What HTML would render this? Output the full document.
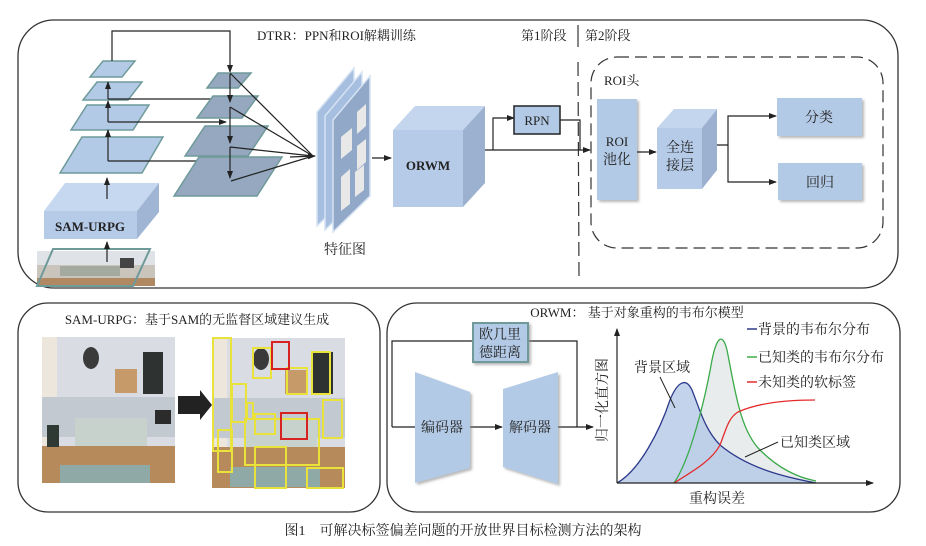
<!DOCTYPE html>
<html><head><meta charset="utf-8"><style>
html,body{margin:0;padding:0;background:#fff}
svg{display:block}
text{font-family:"Liberation Serif","Noto Serif CJK SC",serif;fill:#222}
</style></head><body>
<svg width="926" height="546" viewBox="0 0 926 546" xmlns="http://www.w3.org/2000/svg">
<defs>
<marker id="a" markerWidth="8" markerHeight="6" refX="7" refY="3" orient="auto" markerUnits="userSpaceOnUse"><path d="M0,0L8,3L0,6Z" fill="#222"/></marker>
<filter id="sh" x="-10%" y="-10%" width="130%" height="130%"><feDropShadow dx="2" dy="2" stdDeviation="1.2" flood-color="#888" flood-opacity="0.6"/></filter>
</defs>
<rect x="18" y="20" width="880" height="268" rx="36" fill="none" stroke="#333" stroke-width="1.3"/>
<rect x="18" y="303" width="362" height="209" rx="30" fill="none" stroke="#333" stroke-width="1.3"/>
<rect x="387" y="303" width="513" height="209" rx="30" fill="none" stroke="#333" stroke-width="1.3"/>

<text x="257" y="40" font-size="13">DTRR：PPN和ROI解耦训练</text>
<text x="521" y="40" font-size="13">第1阶段</text>
<text x="585" y="40" font-size="13">第2阶段</text>
<line x1="578" y1="25" x2="578" y2="47" stroke="#333" stroke-width="1.2"/>
<line x1="578" y1="62" x2="579" y2="277" stroke="#333" stroke-width="1.2" stroke-dasharray="14,6"/>

<rect x="37" y="251" width="118" height="35" fill="#c9c4bc"/>
<rect x="37" y="251" width="118" height="14" fill="#dfe2e6"/>
<rect x="60" y="266" width="60" height="10" fill="#a5aaa0"/>
<rect x="120" y="258" width="14" height="10" fill="#444"/>
<rect x="37" y="278" width="118" height="8" fill="#b08862"/>
<polygon points="37,286 53,249 150,249 133,286" fill="none" stroke="#6f9a9a" stroke-width="2"/>
<polygon points="44,211 65,183 159,183 137,211" fill="#c6d8ef"/>
<polygon points="137,211 159,183 159,212 137,239" fill="#9fb5d3"/>
<rect x="44" y="211" width="93" height="28" fill="#b5cbe8"/>
<text x="90" y="231" font-size="13" font-weight="bold" text-anchor="middle" fill="#333">SAM-URPG</text>
<line x1="107" y1="262" x2="107" y2="242" stroke="#222" stroke-width="1.2" marker-end="url(#a)"/>
<line x1="107" y1="199" x2="107" y2="178" stroke="#222" stroke-width="1.2" marker-end="url(#a)"/>
<g fill="#b3cae6" stroke="#6f9a9a" stroke-width="1.5">
<polygon points="60,173 82,137 163,137 142,173"/>
<polygon points="71,130 87,105 149,105 133,130"/>
<polygon points="83,100 97,82 142,82 128,100"/>
<polygon points="90,77 103,61 135,61 122,77"/>
</g>
<g stroke="#222" stroke-width="1.2" fill="none">
<line x1="108" y1="161" x2="108" y2="130" marker-end="url(#a)"/>
<line x1="108" y1="122" x2="108" y2="101" marker-end="url(#a)"/>
<line x1="108" y1="99" x2="108" y2="82" marker-end="url(#a)"/>
<polyline points="112,61 112,31 230,31 230,72" marker-end="url(#a)"/>
<line x1="108" y1="99" x2="228" y2="99" marker-end="url(#a)"/>
<line x1="108" y1="122" x2="226" y2="122" marker-end="url(#a)"/>
<line x1="108" y1="161" x2="226" y2="161" marker-end="url(#a)"/>
</g>
<g fill="#95a8bf" stroke="#6f9a9a" stroke-width="1.5">
<polygon points="174,196 199,157 282,157 257,196"/>
<polygon points="185,156 205,126 268,126 248,156"/>
<polygon points="197,118 213,96 258,96 242,118"/>
<polygon points="207,88 218,73 251,73 238,88"/>
</g>
<g stroke="#222" stroke-width="1.2" fill="none">
<line x1="230" y1="74" x2="230" y2="102" marker-end="url(#a)"/>
<line x1="230" y1="107" x2="230" y2="143" marker-end="url(#a)"/>
<line x1="230" y1="147" x2="230" y2="178" marker-end="url(#a)"/>
<line x1="230" y1="73" x2="313" y2="156"/>
<line x1="230" y1="107" x2="313" y2="156"/>
<line x1="230" y1="147" x2="313" y2="156"/>
<line x1="231" y1="181" x2="313" y2="156"/>
<line x1="290" y1="157" x2="315" y2="156" marker-end="url(#a)"/>
</g>
<g stroke="#d6e3f3" stroke-width="1.5">
<polygon points="317,112 354,68 354,190 317,226" fill="#a6bedf"/>
<polygon points="325,116 362,72 362,194 325,230" fill="#a6bedf"/>
<polygon points="333,120 370,76 370,196 333,232" fill="#92a8c8"/>
</g>
<g fill="#e8e8e8">
<polygon points="341,137 352,128 352,150 341,159"/>
<polygon points="357,112 366,104 366,126 357,134"/>
<polygon points="357,146 366,139 366,162 357,170"/>
<polygon points="341,177 350,169 350,204 341,211"/>
<polygon points="355,172 364,165 364,190 355,197"/>
</g>
<text x="345" y="254" font-size="14" text-anchor="middle">特征图</text>
<line x1="372" y1="158" x2="391" y2="158" stroke="#222" stroke-width="1.2" marker-end="url(#a)"/>
<polygon points="393,130 415,106 485,106 463,130" fill="#c4d6ee"/>
<polygon points="463,130 485,106 485,183 463,207" fill="#9cb1cf"/>
<rect x="393" y="130" width="70" height="77" fill="#b5cbe8"/>
<text x="428" y="170" font-size="13" font-weight="bold" text-anchor="middle" fill="#333">ORWM</text>
<g stroke="#222" stroke-width="1.2" fill="none">
<line x1="485" y1="150" x2="590" y2="150" marker-end="url(#a)"/>
<polyline points="493,150 493,118 514,118" marker-end="url(#a)"/>
<polyline points="560,120 580,120 580,150"/>
</g>
<rect x="514" y="106" width="46" height="28" fill="#b3cae6" stroke="#222" stroke-width="1.5"/>
<text x="537" y="125" font-size="13" text-anchor="middle">RPN</text>
<rect x="591" y="57" width="292" height="191" rx="26" fill="none" stroke="#333" stroke-width="1.2" stroke-dasharray="12,6"/>
<text x="604" y="85" font-size="13">ROI头</text>
<rect x="597" y="99" width="40" height="101" fill="#b3cae6" filter="url(#sh)"/>
<text x="617" y="146" font-size="13" text-anchor="middle">ROI</text>
<text x="617" y="164" font-size="14" text-anchor="middle">池化</text>
<line x1="637" y1="152" x2="656" y2="152" stroke="#222" stroke-width="1.2" marker-end="url(#a)"/>
<polygon points="657,128 674,109 717,109 702,128" fill="#c4d6ee"/>
<polygon points="702,128 717,109 717,170 702,189" fill="#9cb1cf"/>
<rect x="657" y="128" width="45" height="61" fill="#b5cbe8"/>
<text x="680" y="152" font-size="14" text-anchor="middle">全连</text>
<text x="680" y="170" font-size="14" text-anchor="middle">接层</text>
<g stroke="#222" stroke-width="1.2" fill="none">
<polyline points="717,145 728,145 728,116 776,116" marker-end="url(#a)"/>
<polyline points="728,145 728,182 776,182" marker-end="url(#a)"/>
</g>
<rect x="777" y="98" width="85" height="38" fill="#b3cae6" filter="url(#sh)"/>
<text x="819" y="122" font-size="14" text-anchor="middle">分类</text>
<rect x="778" y="163" width="84" height="37" fill="#b3cae6" filter="url(#sh)"/>
<text x="820" y="187" font-size="14" text-anchor="middle">回归</text>

<text x="197" y="324" font-size="13" text-anchor="middle">SAM-URPG：基于SAM的无监督区域建议生成</text>
<g>
<rect x="42" y="337" width="133" height="146" fill="#d9dde3"/>
<rect x="42" y="337" width="15" height="110" fill="#ece6dd"/>
<rect x="42" y="397" width="133" height="40" fill="#c3c9d0"/>
<ellipse cx="91" cy="358" rx="8" ry="11" fill="#3a3a3a"/>
<rect x="143" y="352" width="20" height="42" fill="#2e3230"/>
<rect x="115" y="369" width="22" height="24" fill="#c79a6a"/>
<rect x="75" y="418" width="72" height="28" fill="#c8d2cc"/>
<rect x="42" y="446" width="133" height="37" fill="#b78a5c"/>
<rect x="60" y="465" width="90" height="18" fill="#8fa9a6"/>
<rect x="47" y="425" width="12" height="22" fill="#2f3a34"/>
<rect x="155" y="410" width="16" height="14" fill="#2b2b2b"/>
</g>
<polygon points="178,396 200,396 200,390 212,405 200,420 200,414 178,414" fill="#222"/>
<g>
<rect x="212" y="338" width="133" height="150" fill="#d9dde3"/>
<rect x="212" y="338" width="15" height="110" fill="#ece6dd"/>
<rect x="212" y="398" width="133" height="40" fill="#c3c9d0"/>
<ellipse cx="261" cy="359" rx="8" ry="11" fill="#3a3a3a"/>
<rect x="313" y="352" width="20" height="42" fill="#2e3230"/>
<rect x="285" y="370" width="22" height="24" fill="#c79a6a"/>
<rect x="245" y="420" width="72" height="28" fill="#c8d2cc"/>
<rect x="212" y="447" width="133" height="41" fill="#b78a5c"/>
<rect x="230" y="467" width="90" height="20" fill="#8fa9a6"/>
</g>
<g fill="none" stroke="#e8e23a" stroke-width="2">
<rect x="213" y="338" width="18" height="113"/>
<rect x="253" y="348" width="18" height="30"/>
<rect x="287" y="368" width="20" height="26"/>
<rect x="312" y="352" width="18" height="42"/>
<rect x="232" y="384" width="14" height="38"/>
<rect x="247" y="403" width="6" height="16"/>
<rect x="218" y="430" width="14" height="42"/>
<rect x="245" y="419" width="74" height="46"/>
<rect x="255" y="414" width="20" height="20"/>
<rect x="255" y="447" width="31" height="41"/>
<rect x="323" y="400" width="19" height="38"/>
<rect x="307" y="468" width="36" height="20"/>
</g>
<g fill="none" stroke="#d82222" stroke-width="2">
<rect x="272" y="342" width="17" height="27"/>
<rect x="281" y="413" width="26" height="26"/>
</g>

<text x="637" y="317" font-size="13" text-anchor="middle">ORWM： 基于对象重构的韦布尔模型</text>
<g stroke="#222" stroke-width="1.2" fill="none">
<polyline points="392,427 392,341 473,341"/>
<polyline points="528,341 577,341 577,427"/>
<line x1="392" y1="427" x2="415" y2="427"/>
<line x1="470" y1="427" x2="502" y2="427" marker-end="url(#a)"/>
<line x1="558" y1="427" x2="593" y2="427" marker-end="url(#a)"/>
</g>
<rect x="473" y="323" width="55" height="39" fill="#b3cae6" stroke="#6f9a9a" stroke-width="2" filter="url(#sh)"/>
<text x="500" y="339" font-size="14" text-anchor="middle">欧几里</text>
<text x="500" y="357" font-size="14" text-anchor="middle">德距离</text>
<polygon points="415,372 470,392 470,468 415,483" fill="#b3cae6" filter="url(#sh)"/>
<text x="442" y="432" font-size="14" text-anchor="middle">编码器</text>
<polygon points="503,389 558,372 558,484 503,467" fill="#b3cae6" filter="url(#sh)"/>
<text x="530" y="432" font-size="14" text-anchor="middle">解码器</text>
<path d="M674,483 C690,460 705,400 712,360 C716,340 722,330 727,350 C735,390 740,430 760,450 C780,470 800,478 816,481 L816,483 Z" fill="#e9eced"/>
<path d="M617,483 C640,470 660,430 670,400 C676,385 685,375 692,390 C700,410 705,430 720,445 C750,470 790,478 816,483 Z" fill="#b3c8e6" fill-opacity="0.8"/>
<path d="M617,483 C640,470 660,430 670,400 C676,385 685,375 692,390 C700,410 705,430 720,445 C750,470 790,478 816,483" fill="none" stroke="#2d3a8c" stroke-width="1.3"/>
<path d="M674,483 C690,460 705,400 712,360 C716,340 722,330 727,350 C735,390 740,430 760,450 C780,470 800,478 816,481" fill="none" stroke="#3aaa4a" stroke-width="1.3"/>
<path d="M674,483 C695,470 712,460 720,445 C726,430 728,418 738,412 C760,402 790,400 815,400" fill="none" stroke="#e52a2a" stroke-width="1.3"/>
<line x1="617" y1="483" x2="617" y2="329" stroke="#222" stroke-width="1.2" marker-end="url(#a)"/>
<line x1="617" y1="483" x2="873" y2="483" stroke="#222" stroke-width="1.2" marker-end="url(#a)"/>
<line x1="747" y1="329" x2="757" y2="329" stroke="#2d3a8c" stroke-width="1.5"/>
<text x="758" y="334" font-size="14">背景的韦布尔分布</text>
<line x1="747" y1="357" x2="757" y2="357" stroke="#3aaa4a" stroke-width="1.5"/>
<text x="758" y="362" font-size="14">已知类的韦布尔分布</text>
<line x1="747" y1="382" x2="757" y2="382" stroke="#e52a2a" stroke-width="1.5"/>
<text x="758" y="387" font-size="14">未知类的软标签</text>
<text x="634" y="372" font-size="14">背景区域</text>
<line x1="660" y1="377" x2="675" y2="408" stroke="#222"/>
<text x="780" y="447" font-size="14">已知类区域</text>
<line x1="778" y1="442" x2="745" y2="457" stroke="#222"/>
<text x="0" y="0" font-size="14" text-anchor="middle" transform="translate(607,400) rotate(-90)">归一化直方图</text>
<text x="717" y="503" font-size="14" text-anchor="middle">重构误差</text>

<text x="463" y="535" font-size="14" text-anchor="middle">图1　可解决标签偏差问题的开放世界目标检测方法的架构</text>
</svg>
</body></html>
